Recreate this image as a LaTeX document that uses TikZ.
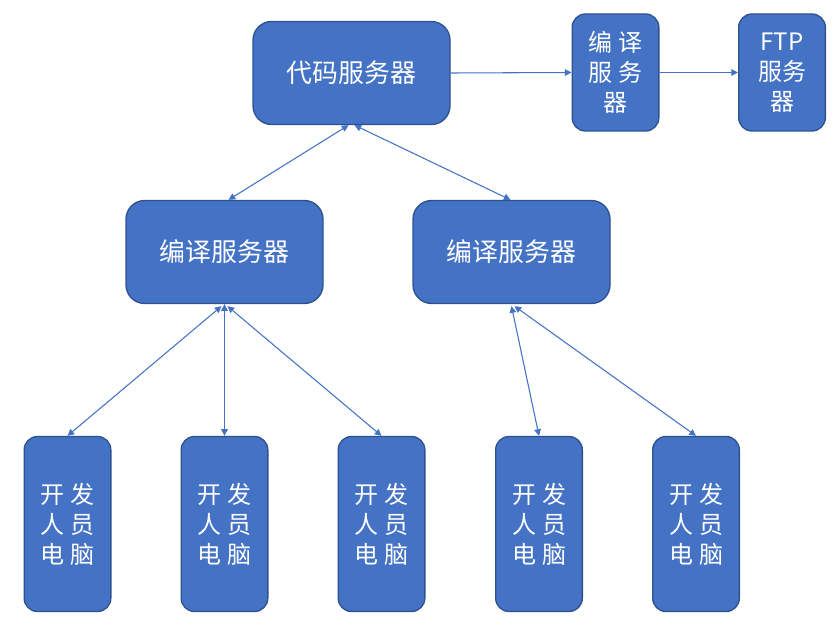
\documentclass[tikz,border=0pt]{standalone}
\usepackage{fontspec}
\setmainfont{Noto Sans CJK SC}
\usetikzlibrary{arrows.meta,calc}
\definecolor{boxfill}{HTML}{4472C4}
\definecolor{boxline}{HTML}{2F528F}
\tikzset{
  box/.style={rectangle, rounded corners=14pt, draw=boxline, fill=boxfill, line width=1pt,
    text=white, font=\fontsize{18}{22.5}\selectfont, align=center, inner sep=0pt},
  bigbox/.style={box, font=\fontsize{19.4}{23}\selectfont, minimum width=147.75pt, minimum height=77.25pt},
  tallbox/.style={box, rounded corners=10pt, minimum width=65pt, minimum height=87.75pt},
  devbox/.style={box, rounded corners=10pt, minimum width=65pt, minimum height=131.25pt},
  conn/.style={draw=boxfill, line width=0.8pt},
  twoway/.style={conn, {Triangle[width=5pt,length=5pt]}-{Triangle[width=5pt,length=5pt]}},
  oneway/.style={conn, -{Triangle[width=5pt,length=5pt]}}
}
\newcommand{\gp}{\hspace{0.25em}}
\begin{document}
\begin{tikzpicture}[x=0.75pt,y=-0.75pt]
\useasboundingbox (0,0) rectangle (835,631);
\node[bigbox] (code) at (351.5,73) {代码服务器};
\node[tallbox] (cs) at (615.5,72.5) {编\gp 译\\服\gp 务\\器};
\node[tallbox] (ftp) at (782,72.5) {FTP\\服务\\器};
\node[bigbox] (lc) at (224.5,252) {编译服务器};
\node[bigbox] (rc) at (511.5,252) {编译服务器};
\node[devbox] (d1) at (67.5,524) {开\gp 发\\人\gp 员\\电\gp 脑};
\node[devbox] (d2) at (224.5,524) {开\gp 发\\人\gp 员\\电\gp 脑};
\node[devbox] (d3) at (381.5,524) {开\gp 发\\人\gp 员\\电\gp 脑};
\node[devbox] (d4) at (539,524) {开\gp 发\\人\gp 员\\电\gp 脑};
\node[devbox] (d5) at (696,524) {开\gp 发\\人\gp 员\\电\gp 脑};
\draw[oneway] (code.east) -- (cs.west);
\draw[oneway] (cs.east) -- (ftp.west);
\draw[twoway] ($(code.south)+(-3,0)$) -- ($(lc.north)+(4,0)$);
\draw[twoway] ($(code.south)+(3,0)$) -- ($(rc.north)+(-1,0)$);
\draw[twoway] ($(lc.south)+(-3,2)$) -- (d1.north);
\draw[twoway] (lc.south) -- (d2.north);
\draw[twoway] ($(lc.south)+(3,2)$) -- (d3.north);
\draw[twoway] ($(rc.south)+(0,2)$) -- (d4.north);
\draw[twoway] ($(rc.south)+(3,2)$) -- (d5.north);
\end{tikzpicture}
\end{document}
